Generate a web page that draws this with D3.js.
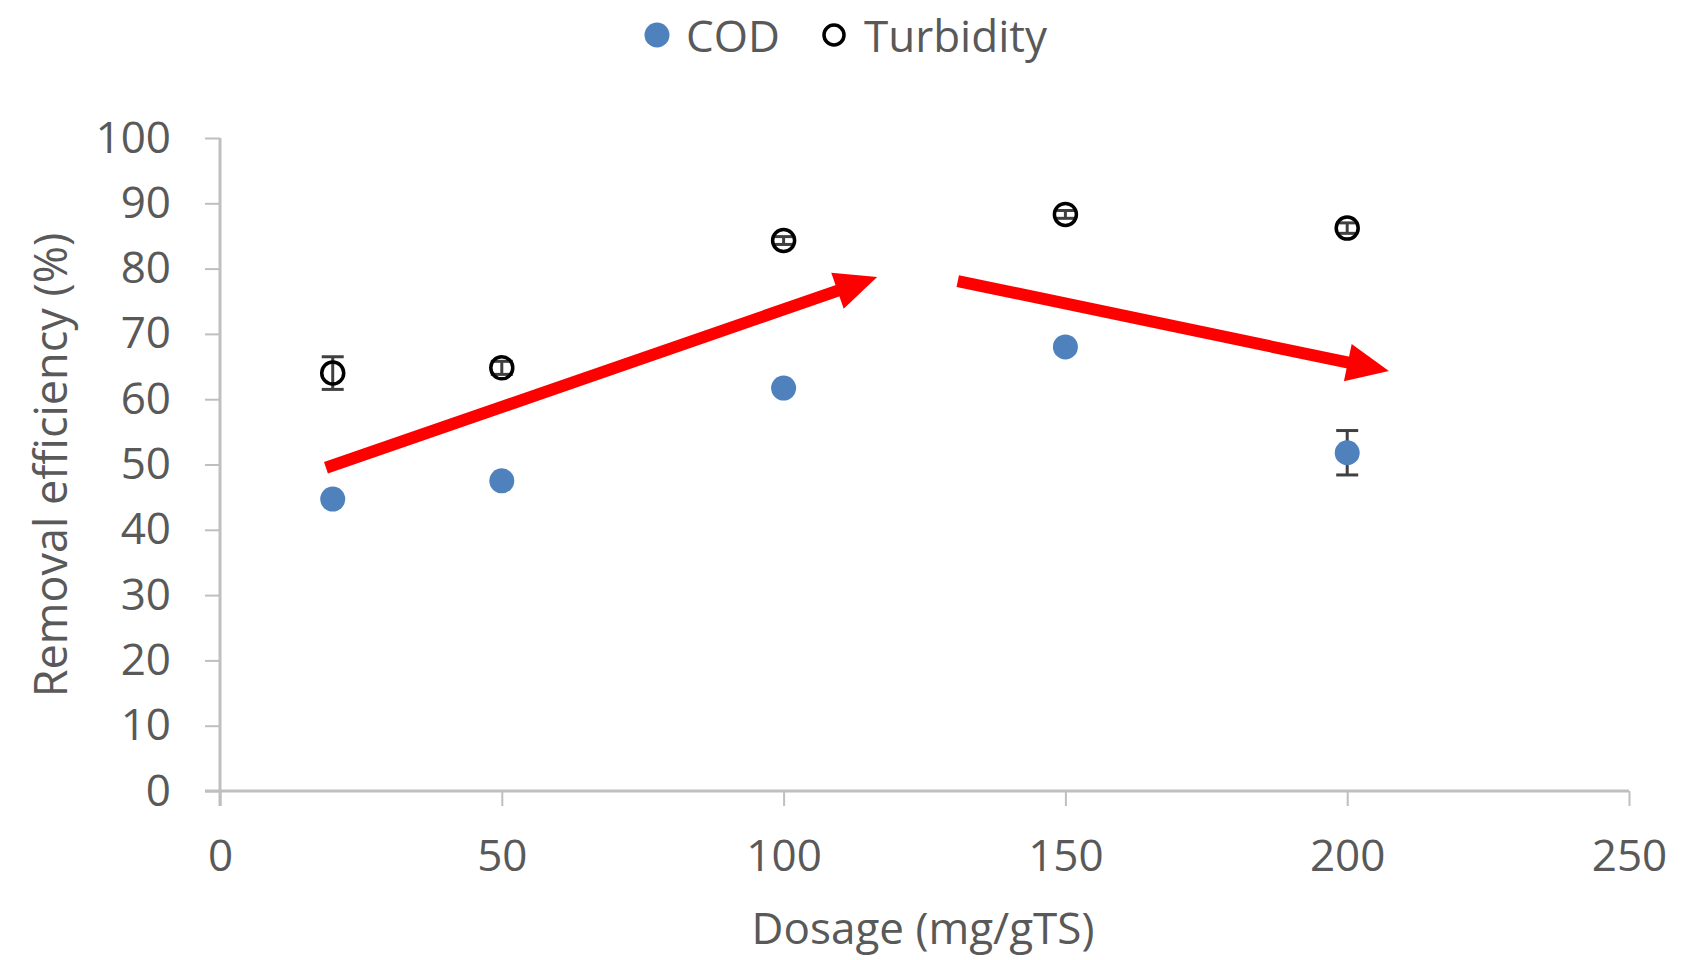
<!DOCTYPE html>
<html>
<head>
<meta charset="utf-8">
<script src="https://cdn.jsdelivr.net/npm/d3@7"></script>
<style>
  body { margin: 0; background: #fff; }
  text { font-family: "Open Sans", sans-serif; fill: #595959; }
</style>
</head>
<body>
<script>
// data
var dosage = [20, 50, 100, 150, 200];
var codValues = [44.7, 47.5, 61.7, 68.0, 51.8];
var codErrors = [0.4, 0.4, 0.4, 0.4, 3.4];
var turbValues = [64.0, 64.8, 84.3, 88.3, 86.2];
var turbErrors = [2.5, 1.0, 0.6, 0.6, 0.8];
var xTicks = [0, 50, 100, 150, 200, 250];
var yTicks = [0, 10, 20, 30, 40, 50, 60, 70, 80, 90, 100];
// trend arrows, in data units: [x1, y1, x2, y2]
var arrows = [[18.8, 49.5, 116.6, 78.7], [130.9, 78.1, 207.4, 64.3]];

// svg container
var width = 1706;
var height = 960;

// margins
var margin = { top: 138, right: 77, bottom: 169, left: 220 };

var chartHeight = height - margin.top - margin.bottom;
var chartWidth = width - margin.left - margin.right;

var svg = d3.select("body").append("svg")
    .attr("width", width)
    .attr("height", height);

var chartGroup = svg.append("g")
    .attr("transform", `translate(${margin.left}, ${margin.top})`);

var xScale = d3.scaleLinear().domain([0, 250]).range([0, chartWidth]);
var yScale = d3.scaleLinear().domain([0, 100]).range([chartHeight, 0]);

var axisColor = "#bfbfbf";
var fontSize = "44px";

// x axis
var xAxis = chartGroup.append("g")
    .attr("transform", `translate(0, ${chartHeight})`)
    .call(d3.axisBottom(xScale).tickValues(xTicks).tickSize(15).tickPadding(34).tickSizeOuter(0));

// y axis
var yAxis = chartGroup.append("g")
    .call(d3.axisLeft(yScale).tickValues(yTicks).tickSize(15).tickPadding(34).tickSizeOuter(0));

[xAxis, yAxis].forEach(function(ax) {
  ax.select(".domain").attr("stroke", axisColor).attr("stroke-width", 3);
  ax.selectAll(".tick line").attr("stroke", axisColor).attr("stroke-width", 2);
  ax.selectAll(".tick text")
    .style("font-family", "'Open Sans', sans-serif")
    .style("font-size", fontSize)
    .attr("fill", "#595959");
});
// extend axis lines past the crossing, like the original
xAxis.select(".domain").attr("d", `M-15,0H${chartWidth}`);
yAxis.select(".domain").attr("d", `M0,0V${chartHeight + 15}`);

// axis titles
svg.append("text")
    .attr("x", 923)
    .attr("y", 927)
    .attr("text-anchor", "middle")
    .attr("dominant-baseline", "central")
    .style("font-size", "44px")
    .text("Dosage (mg/gTS)");

svg.append("text")
    .attr("transform", "translate(49, 465) rotate(-90)")
    .attr("text-anchor", "middle")
    .attr("dominant-baseline", "central")
    .style("font-size", "45px")
    .text("Removal efficiency (%)");

// error bars
function drawErrors(values, errors, cls) {
  var g = chartGroup.append("g").attr("class", cls);
  dosage.forEach(function(x, i) {
    var cx = xScale(x);
    var y1 = yScale(values[i] + errors[i]);
    var y2 = yScale(values[i] - errors[i]);
    g.append("line").attr("x1", cx).attr("x2", cx).attr("y1", y1).attr("y2", y2)
      .attr("stroke", "#404040").attr("stroke-width", 3);
    [y1, y2].forEach(function(y) {
      g.append("line").attr("x1", cx - 11).attr("x2", cx + 11).attr("y1", y).attr("y2", y)
        .attr("stroke", "#404040").attr("stroke-width", 3);
    });
  });
}

// COD points (drawn over their error bars)
drawErrors(codValues, codErrors, "cod-err");
chartGroup.selectAll("circle.cod")
    .data(codValues)
    .enter()
    .append("circle")
    .attr("class", "cod")
    .attr("cx", (d, i) => xScale(dosage[i]))
    .attr("cy", d => yScale(d))
    .attr("r", 12.5)
    .attr("fill", "#4f81bd");

// Turbidity points
drawErrors(turbValues, turbErrors, "turb-err");
chartGroup.selectAll("circle.turb")
    .data(turbValues)
    .enter()
    .append("circle")
    .attr("class", "turb")
    .attr("cx", (d, i) => xScale(dosage[i]))
    .attr("cy", d => yScale(d))
    .attr("r", 11)
    .attr("fill", "none")
    .attr("stroke", "#000")
    .attr("stroke-width", 3.5);

// red trend arrows
var headLen = 42, headHalf = 19;
arrows.forEach(function(a) {
  var x1 = xScale(a[0]), y1 = yScale(a[1]);
  var x2 = xScale(a[2]), y2 = yScale(a[3]);
  var ang = Math.atan2(y2 - y1, x2 - x1);
  var bx = x2 - headLen * Math.cos(ang), by = y2 - headLen * Math.sin(ang);
  chartGroup.append("line")
    .attr("x1", x1).attr("y1", y1).attr("x2", bx + 2 * Math.cos(ang)).attr("y2", by + 2 * Math.sin(ang))
    .attr("stroke", "#ff0000").attr("stroke-width", 12);
  var px = -Math.sin(ang), py = Math.cos(ang);
  chartGroup.append("path")
    .attr("d", `M${x2},${y2}L${bx + px * headHalf},${by + py * headHalf}L${bx - px * headHalf},${by - py * headHalf}Z`)
    .attr("fill", "#ff0000");
});

// legend
var legend = svg.append("g");
legend.append("circle").attr("cx", 657).attr("cy", 35).attr("r", 12.5).attr("fill", "#4f81bd");
legend.append("text").attr("x", 686).attr("y", 35).attr("dominant-baseline", "central")
    .style("font-size", fontSize).text("COD");
legend.append("circle").attr("cx", 834).attr("cy", 35).attr("r", 10).attr("fill", "none")
    .attr("stroke", "#000").attr("stroke-width", 3.5);
legend.append("text").attr("x", 864).attr("y", 35).attr("dominant-baseline", "central")
    .style("font-size", fontSize).text("Turbidity");
</script>
</body>
</html>
